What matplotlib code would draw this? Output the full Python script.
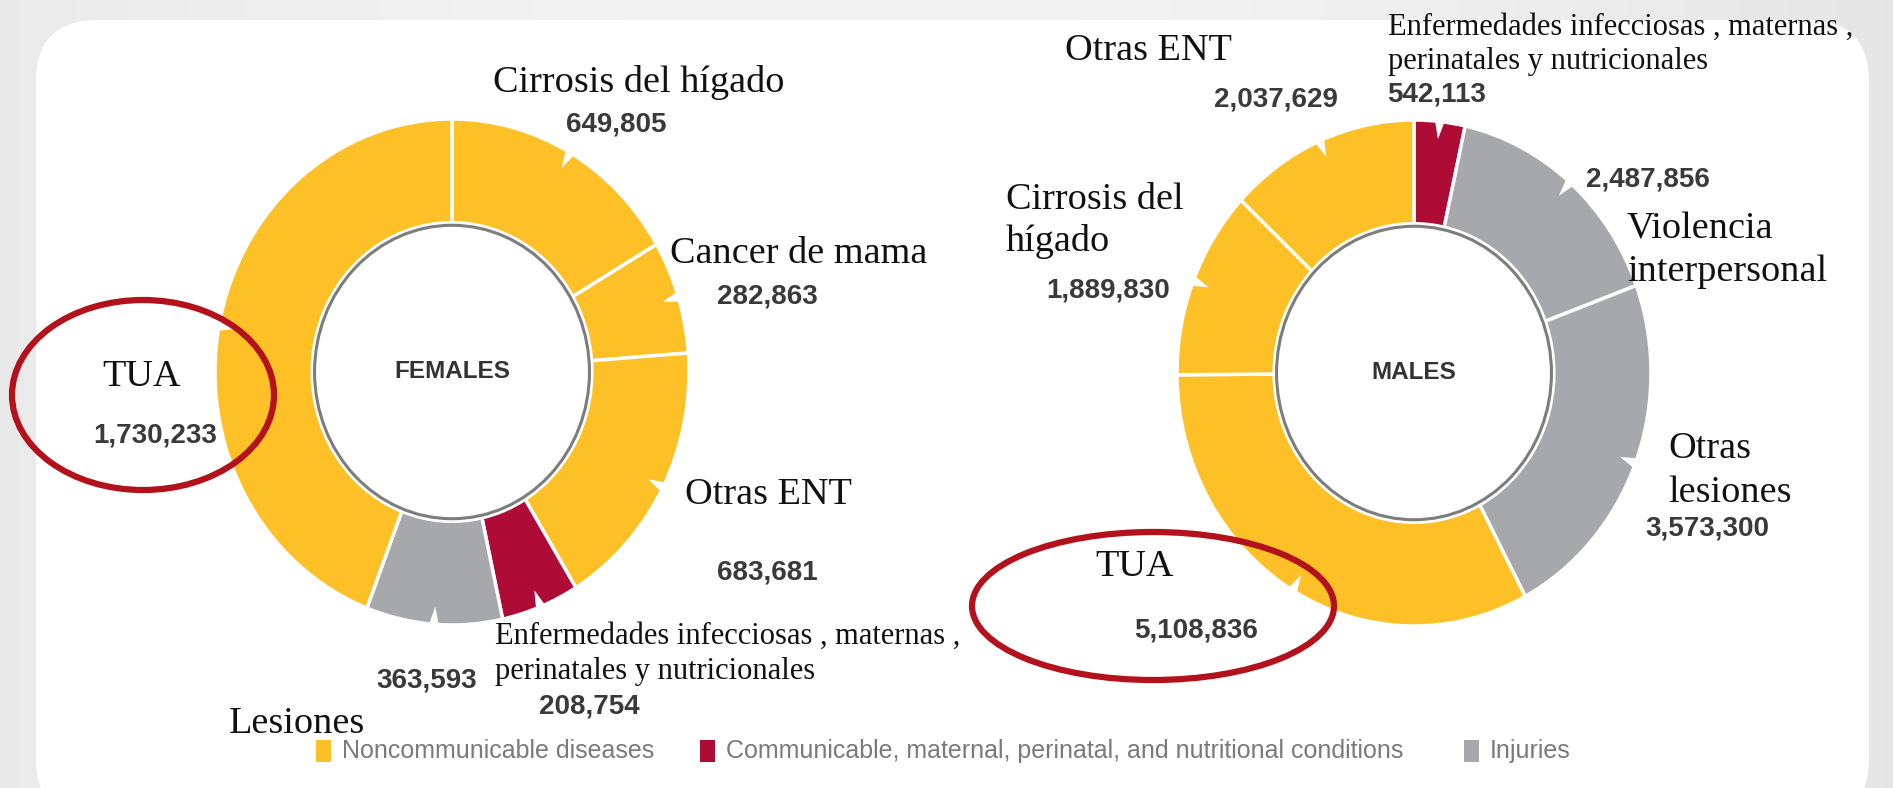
import numpy as np
import matplotlib.pyplot as plt
from matplotlib.patches import FancyBboxPatch, Ellipse, Circle, Polygon, Rectangle

# datos
categorias = ['ENT', 'Transmisibles', 'Lesiones']
colores_cat = {'ENT': '#fdc127', 'Transmisibles': '#ae0b37', 'Lesiones': '#a7a8ab'}

# mujeres (sentido horario desde arriba)
mujeres_nombres = ['Cirrosis del hígado', 'Cancer de mama', 'Otras ENT',
                   'Enfermedades infecciosas', 'Lesiones', 'TUA']
mujeres_valores = [649805, 282863, 683681, 208754, 363593, 1730233]
mujeres_cat = ['ENT', 'ENT', 'ENT', 'Transmisibles', 'Lesiones', 'ENT']

# hombres
hombres_nombres = ['Enfermedades infecciosas', 'Violencia interpersonal', 'Otras lesiones',
                   'TUA', 'Cirrosis del hígado', 'Otras ENT']
hombres_valores = [542113, 2487856, 3573300, 5108836, 1889830, 2037629]
hombres_cat = ['Transmisibles', 'Lesiones', 'Lesiones', 'ENT', 'ENT', 'ENT']

leyenda = ['Noncommunicable diseases',
           'Communicable, maternal, perinatal, and nutritional conditions',
           'Injuries']

W, H = 1893, 788
fig = plt.figure(figsize=(W / 100, H / 100), dpi=100)

# fondo gris con degradado y tarjeta blanca
bg = fig.add_axes([0, 0, 1, 1])
bg.set_xlim(0, W)
bg.set_ylim(H, 0)
bg.axis('off')
xx = np.linspace(0, 1, 400)
grad = 0.955 - 0.07 * np.abs(xx - 0.45) ** 1.5 * 2
bg.imshow(np.tile(grad, (20, 1)), cmap='gray', vmin=0, vmax=1, aspect='auto',
          extent=(0, W, H, 0), zorder=0)
bg.add_patch(FancyBboxPatch((36 + 62, 20 + 62), 1833 - 124, 800 - 124,
                            boxstyle='round,pad=62', fc='white', ec='none', zorder=1))

SANS = ['Liberation Sans Narrow', 'Liberation Sans']
SERIF = ['Liberation Serif', 'DejaVu Serif']
RX, RY = 237, 253


def donut(cx, cy, valores, cats, titulo):
    ax = fig.add_axes([(cx - 1.1 * RX) / W, 1 - (cy + 1.1 * RY) / H,
                       2.2 * RX / W, 2.2 * RY / H])
    ax.pie(valores, colors=[colores_cat[c] for c in cats], startangle=90,
           counterclock=False, radius=1,
           wedgeprops=dict(width=0.41, edgecolor='white', linewidth=2.5))
    ax.set_aspect('auto')
    ax.set_xlim(-1.1, 1.1)
    ax.set_ylim(-1.1, 1.1)
    ax.add_patch(Circle((0, 0), 0.58, fc='white', ec='#7d7d7d', lw=2.2, zorder=5))
    # muescas en el borde exterior
    tot = float(sum(valores))
    acum = 0.0
    for v in valores:
        t = np.radians(90 - (acum + v / 2) / tot * 360)
        d = np.radians(1.6)
        pts = [(1.03 * np.cos(t - d), 1.03 * np.sin(t - d)),
               (0.93 * np.cos(t), 0.93 * np.sin(t)),
               (1.03 * np.cos(t + d), 1.03 * np.sin(t + d))]
        ax.add_patch(Polygon(pts, closed=True, fc='white', ec='none', zorder=4))
        acum += v
    ax.text(0, 0, titulo, ha='center', va='center', fontsize=17.5, fontweight='bold',
            color='#333333', family=SANS, zorder=6)
    return ax


donut(452, 372, mujeres_valores, mujeres_cat, 'FEMALES')
donut(1414, 373, hombres_valores, hombres_cat, 'MALES')

ov = fig.add_axes([0, 0, 1, 1])
ov.set_xlim(0, W)
ov.set_ylim(H, 0)
ov.axis('off')
ov.patch.set_alpha(0)


def etiqueta(x, y, s, size=27.5, ha='left'):
    ov.text(x, y, s, ha=ha, va='center', fontsize=size, family=SERIF, color='#111111')


def numero(x, y, v):
    ov.text(x, y, f'{v:,}', ha='center', va='center', fontsize=20, fontweight='bold',
            family=SANS, color='#3a3a3a')


# etiquetas mujeres
etiqueta(493, 82, 'Cirrosis del hígado')
numero(616, 124, mujeres_valores[0])
etiqueta(670, 254, 'Cancer de mama')
numero(767, 296, mujeres_valores[1])
etiqueta(685, 495, 'Otras ENT')
numero(767, 572, mujeres_valores[2])
etiqueta(495, 636, 'Enfermedades infecciosas , maternas ,', size=22)
etiqueta(495, 671, 'perinatales y nutricionales', size=22)
numero(589, 706, mujeres_valores[3])
numero(427, 680, mujeres_valores[4])
etiqueta(229, 724, 'Lesiones')
etiqueta(142, 377, 'TUA', ha='center')
numero(155, 435, mujeres_valores[5])

# etiquetas hombres
etiqueta(1388, 27, 'Enfermedades infecciosas , maternas ,', size=22)
etiqueta(1388, 61, 'perinatales y nutricionales', size=22)
numero(1437, 94, hombres_valores[0])
numero(1648, 179, hombres_valores[1])
etiqueta(1627, 229, 'Violencia')
etiqueta(1627, 272, 'interpersonal')
etiqueta(1668, 449, 'Otras')
etiqueta(1668, 493, 'lesiones')
numero(1707, 529, hombres_valores[2])
etiqueta(1135, 567, 'TUA', ha='center')
numero(1196, 631, hombres_valores[3])
etiqueta(1006, 200, 'Cirrosis del')
etiqueta(1006, 241, 'hígado')
numero(1108, 290, hombres_valores[4])
etiqueta(1065, 51, 'Otras ENT')
numero(1276, 99, hombres_valores[5])

# círculos rojos
ov.add_patch(Ellipse((143, 395), 262, 190, fc='none', ec='#b3121c', lw=4.5))
ov.add_patch(Ellipse((1153, 606), 362, 148, fc='none', ec='#b3121c', lw=4.5))

# leyenda
for x0, cat, txt in zip([316, 700, 1464], categorias, leyenda):
    ov.add_patch(Rectangle((x0, 740), 15, 22, fc=colores_cat[cat], ec='none'))
    ov.text(x0 + 26, 751, txt, ha='left', va='center', fontsize=18,
            family=SANS, color='#7a7a7a')

fig.savefig('out.png', dpi=100)
